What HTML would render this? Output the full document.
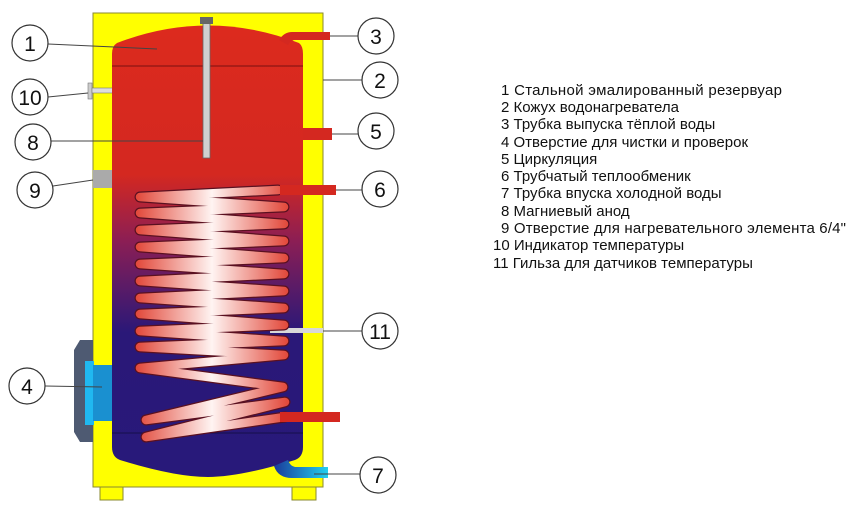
<!DOCTYPE html>
<html><head><meta charset="utf-8"><style>
body{margin:0;background:#fff;}
svg{display:block}
text{font-family:"Liberation Sans",sans-serif}
</style></head><body>
<svg width="859" height="514" viewBox="0 0 859 514">
<defs>
<linearGradient id="tank" x1="0" y1="0" x2="0" y2="1" gradientUnits="objectBoundingBox">
<stop offset="0" stop-color="#dc2a1e"/>
<stop offset="0.33" stop-color="#d42820"/>
<stop offset="0.48" stop-color="#8a1e55"/>
<stop offset="0.68" stop-color="#2a1878"/>
<stop offset="1" stop-color="#28197a"/>
</linearGradient>
<linearGradient id="coil" x1="137" y1="0" x2="287" y2="0" gradientUnits="userSpaceOnUse">
<stop offset="0" stop-color="#e24a3c"/>
<stop offset="0.5" stop-color="#fff4f2"/>
<stop offset="1" stop-color="#e24a3c"/>
</linearGradient>
<linearGradient id="blue" x1="0" y1="0" x2="1" y2="0">
<stop offset="0" stop-color="#1a3a9a"/>
<stop offset="1" stop-color="#22d0f0"/>
</linearGradient>
</defs>
<rect x="100" y="486" width="23" height="14" fill="#ffff00" stroke="#8a8a30" stroke-width="1"/>
<rect x="292" y="486" width="24" height="14" fill="#ffff00" stroke="#8a8a30" stroke-width="1"/>
<rect x="93" y="13" width="230" height="474" fill="#ffff00" stroke="#8a8a30" stroke-width="1"/>
<path d="M80 340 L93 340 L93 442 L80 442 L74 432 L74 350 Z" fill="#4e5a72"/>
<rect x="85" y="361" width="9" height="64" fill="#20b8f0"/>
<rect x="93" y="365" width="20" height="56" fill="#1a90d0"/>
<rect x="93" y="170" width="20" height="18" fill="#aaaaaa"/>
<rect x="88" y="83" width="4" height="16" fill="#cccccc" stroke="#777" stroke-width="0.6"/>
<rect x="92" y="88" width="21" height="5" fill="#dddddd" stroke="#777" stroke-width="0.6"/>
<path d="M112 54 Q112 46 117 43 Q208 8 299 43 Q303 46 303 54 L303 447 Q303 457 295 460 Q240 477 208 477 Q175 477 120 460 Q112 457 112 447 Z" fill="url(#tank)"/>
<line x1="112" y1="66" x2="303" y2="66" stroke="#7a1010" stroke-width="1"/>
<line x1="112" y1="433" x2="303" y2="433" stroke="#15104a" stroke-width="1"/>
<path d="M279 40 Q284 32 292 32 L330 32 L330 40 L294 40 Q290 41 288 45 Z" fill="#d42820"/>
<rect x="303" y="128" width="29" height="12" fill="#d42820"/>
<rect x="270" y="328" width="53" height="5" fill="#d8d8d8"/>
<path d="M274 466 Q278 478 292 478 L328 478 L328 467 L295 467 Q290 466 288 460 Z" fill="url(#blue)"/>
<rect x="203" y="22" width="7" height="136" fill="#d0d0d0" stroke="#666" stroke-width="0.8"/>
<rect x="200" y="17" width="13" height="7" fill="#666"/>
<g fill="none" stroke-linejoin="round" stroke-linecap="round">
<polyline stroke="#5a1020" stroke-width="11" points="278,190 140,197 284,207 140,213 284,224 140,230 284,241 140,247 284,258 140,264 284,274 140,281 284,291 140,298 284,308 140,314 284,325 140,331 284,341 140,347 284,355 140,368 283,387 146,420 285,402 146,437 285,417"/>
<polyline stroke="url(#coil)" stroke-width="8.5" points="278,190 140,197 284,207 140,213 284,224 140,230 284,241 140,247 284,258 140,264 284,274 140,281 284,291 140,298 284,308 140,314 284,325 140,331 284,341 140,347 284,355 140,368 283,387 146,420 285,402 146,437 285,417"/>
</g>
<rect x="280" y="185" width="56" height="10" fill="#d42820"/>
<rect x="280" y="412" width="60" height="10" fill="#d42820"/>
<g stroke="#444" stroke-width="1">
<line x1="48" y1="44" x2="157" y2="49"/>
<line x1="330" y1="36" x2="358" y2="36"/>
<line x1="323" y1="80" x2="362" y2="80"/>
<line x1="48" y1="97" x2="88" y2="93"/>
<line x1="332" y1="134" x2="358" y2="134"/>
<line x1="51" y1="141" x2="203" y2="141"/>
<line x1="53" y1="186" x2="93" y2="180"/>
<line x1="336" y1="190" x2="362" y2="190"/>
<line x1="323" y1="331" x2="362" y2="331"/>
<line x1="45" y1="386" x2="102" y2="387"/>
<line x1="314" y1="474" x2="360" y2="474"/>
</g>
<g fill="#fff" stroke="#333" stroke-width="1.2">
<circle cx="30" cy="43" r="18"/>
<circle cx="376" cy="36" r="18"/>
<circle cx="380" cy="80" r="18"/>
<circle cx="30" cy="97" r="18"/>
<circle cx="376" cy="131" r="18"/>
<circle cx="33" cy="142" r="18"/>
<circle cx="35" cy="190" r="18"/>
<circle cx="380" cy="189" r="18"/>
<circle cx="380" cy="331" r="18"/>
<circle cx="27" cy="386" r="18"/>
<circle cx="378" cy="475" r="18"/>
</g>
<g font-size="21" text-anchor="middle" fill="#111">
<text x="30" y="51">1</text>
<text x="376" y="44">3</text>
<text x="380" y="88">2</text>
<text x="30" y="105">10</text>
<text x="376" y="139">5</text>
<text x="33" y="150">8</text>
<text x="35" y="198">9</text>
<text x="380" y="197">6</text>
<text x="380" y="339">11</text>
<text x="27" y="394">4</text>
<text x="378" y="483">7</text>
</g>
<g font-size="15" fill="#111">
<text x="501" y="95" textLength="281">1 Стальной эмалированный резервуар</text>
<text x="501" y="112">2 Кожух водонагревателa</text>
<text x="501" y="129">3 Трубка выпуска тёплой воды</text>
<text x="501" y="147">4 Отверстие для чистки и проверок</text>
<text x="501" y="164">5 Циркуляция</text>
<text x="501" y="181">6 Трубчатый теплообменик</text>
<text x="501" y="198">7 Трубка впуска холодной воды</text>
<text x="501" y="216">8 Магниевый анод</text>
<text x="501" y="233" textLength="345">9 Отверстие для нагревательного элемента 6/4"</text>
<text x="493" y="250">10 Индикатор температуры</text>
<text x="493" y="268">11 Гильза для датчиков температуры</text>
</g>
</svg>
</body></html>
